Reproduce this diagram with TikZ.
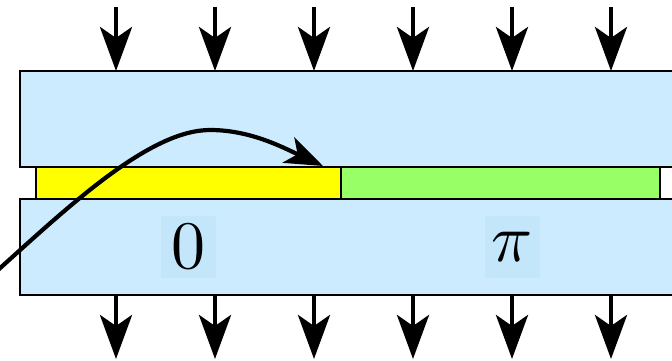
\documentclass[tikz,border=0pt]{standalone}
\usepackage{graphicx}
\usetikzlibrary{arrows.meta}
\definecolor{slab}{RGB}{204,235,255}
\definecolor{labbg}{RGB}{196,230,250}
\definecolor{ylw}{RGB}{255,255,0}
\definecolor{grn}{RGB}{153,255,102}
\begin{document}
\begin{tikzpicture}[x=1pt,y=-1pt,
  slabstyle/.style={draw=black,line width=2.8pt,fill=slab},
  stripstyle/.style={draw=black,line width=2.8pt},
  labstyle/.style={fill=labbg,inner sep=0pt,minimum width=55pt,minimum height=62pt},
  flux/.style={line width=4.5pt,-{Stealth[length=44pt,width=32pt,inset=11pt]}},
  wave/.style={line width=4.2pt,-{Stealth[length=38pt,width=28pt,inset=10pt]}}]
\useasboundingbox (0,0) rectangle (672,361);
% slabs
\path[slabstyle] (20,71) rectangle (700,167);
\path[slabstyle] (20,199) rectangle (700,295);
% strip
\path[stripstyle,fill=white] (36,167) rectangle (700,199);
\path[stripstyle,fill=ylw] (36,167) rectangle (341,199);
\path[stripstyle,fill=grn] (341,167) rectangle (660,199);
% labels
\node[labstyle] (zero) at (188,247) {\scalebox{6.8}{$0$}};
\node[labstyle] (pi) at (512,247) {\scalebox{6.8}{$\pi$}};
% curve
\coordinate (cs) at (-2,270);
\coordinate (cp) at (210,130);
\coordinate (ce) at (323,166);
\draw[wave] (cs) .. controls (70,205) and (150,130) .. (cp) .. controls (250,130) and (282,147) .. (ce);
% arrows
\foreach \i/\x in {1/116,2/215,3/314,4/413,5/512,6/611}{
  \coordinate (ta\i) at (\x,7);
  \coordinate (tb\i) at (\x,71);
  \coordinate (ba\i) at (\x,295);
  \coordinate (bb\i) at (\x,359);
  \draw[flux] (ta\i) -- (tb\i);
  \draw[flux] (ba\i) -- (bb\i);
}
\end{tikzpicture}
\end{document}
